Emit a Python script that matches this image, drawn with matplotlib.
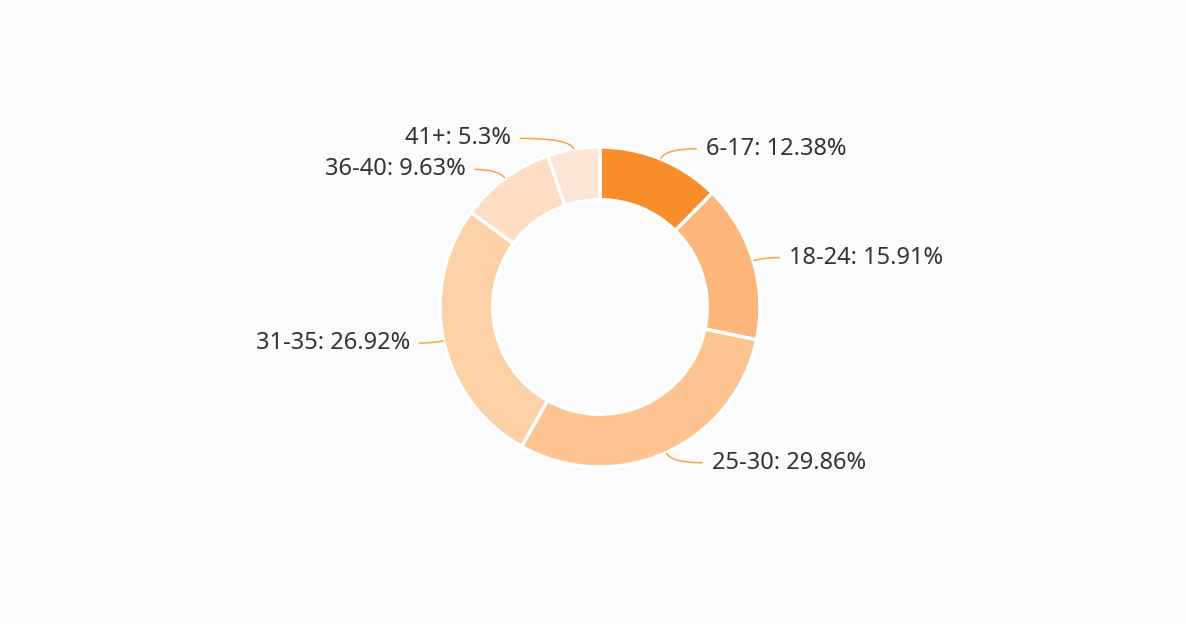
import numpy as np
import matplotlib
matplotlib.use("Agg")
import matplotlib.pyplot as plt
from matplotlib.path import Path
from matplotlib.patches import PathPatch

# age groups and share (%)
age_groups = ["6-17", "18-24", "25-30", "31-35", "36-40", "41+"]
shares = [12.38, 15.91, 29.86, 26.92, 9.63, 5.3]
share_labels = ["12.38%", "15.91%", "29.86%", "26.92%", "9.63%", "5.3%"]

colors = ["#FA8D2B", "#FDB57A", "#FDC391", "#FDD1A8", "#FDDDC3", "#FDE6D6"]
line_color = "#F2A547"
# horizontal tail length of each leader line, in pixels
tail_px = [32, 16, 32, 14, 24, 52]

W, H = 1186, 624
PX = 160.0  # pixels per data unit (outer radius = 1)
cx, cy = 600, 307

fig = plt.figure(figsize=(W / 100, H / 100), dpi=100)
fig.patch.set_facecolor("#FBFBFB")
ax = fig.add_axes([0, 0, 1, 1])
ax.set_facecolor("#FBFBFB")

wedges, _ = ax.pie(shares, colors=colors, startangle=90, counterclock=False,
                   radius=1.0,
                   wedgeprops=dict(width=0.33, edgecolor="white", linewidth=2.5))

ax.set_xlim(-cx / PX, (W - cx) / PX)
ax.set_ylim(-(H - cy) / PX, cy / PX)
ax.set_aspect("equal")
ax.axis("off")

total = sum(shares)
cum = 0.0
for name, val, lab, tail in zip(age_groups, shares, share_labels, tail_px):
    mid = cum + val / 2
    cum += val
    ang = np.deg2rad(90 - 360 * mid / total)
    x0, y0 = np.cos(ang), np.sin(ang)
    r1 = 1 + 11 / PX
    x1, y1 = r1 * np.cos(ang), r1 * np.sin(ang)
    side = 1 if x0 >= 0 else -1
    x2 = x1 + side * tail / PX
    path = Path([(x0, y0), (x1, y1), (x2, y1)], [Path.MOVETO, Path.CURVE3, Path.CURVE3])
    ax.add_patch(PathPatch(path, fill=False, edgecolor=line_color, lw=1.1))
    ax.text(x2 + side * 9 / PX, y1, f"{name}: {lab}",
            ha="left" if side > 0 else "right", va="center",
            fontsize=17, color="#333333", family=["Noto Sans", "DejaVu Sans"])

fig.savefig("out.png", dpi=100, facecolor=fig.get_facecolor())
